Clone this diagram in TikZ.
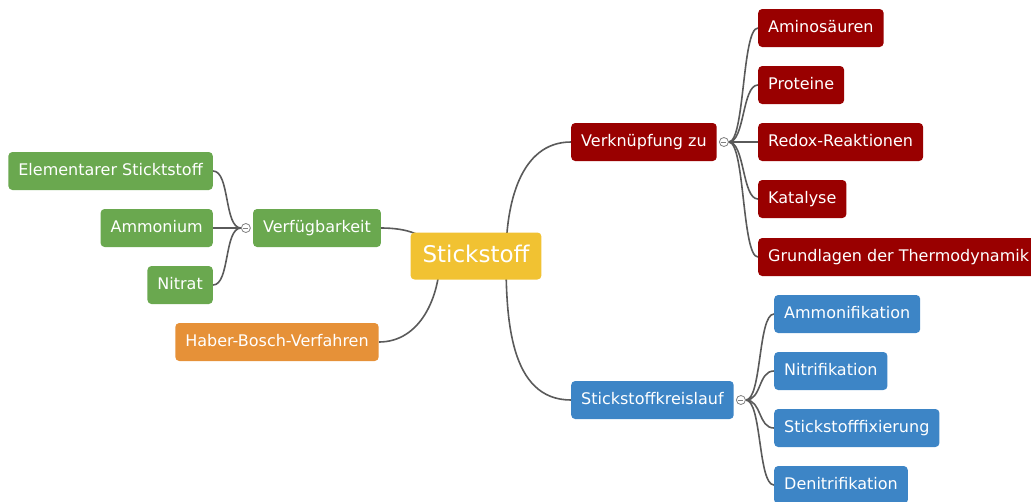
\documentclass[tikz,border=0pt]{standalone}
\usepackage{fontspec}
\setmainfont{DejaVu Sans}
\usetikzlibrary{backgrounds}
\definecolor{gelb}{HTML}{F1C232}
\definecolor{gruen}{HTML}{6AA84F}
\definecolor{orange}{HTML}{E69138}
\definecolor{rot}{HTML}{990000}
\definecolor{blau}{HTML}{3D85C6}
\definecolor{linie}{HTML}{5A5A5A}
\begin{document}
\begin{tikzpicture}[x=1pt,y=1pt,
        % Configuración de las cajas
        box/.style={rounded corners=4pt, text=white, font=\fontsize{16}{18}\selectfont,
            minimum height=38pt, inner xsep=10pt, text height=12pt, text depth=3.5pt},
        root/.style={box, fill=gelb, font=\fontsize{23}{26}\selectfont, minimum height=47pt,
            inner xsep=12pt, text height=17pt, text depth=4pt},
        verde/.style={box, fill=gruen},
        naranja/.style={box, fill=orange},
        rojo/.style={box, fill=rot},
        azul/.style={box, fill=blau},
        % Botón de plegar (círculo con signo menos)
        toggle/.style={circle, draw=gray, fill=white, line width=0.8pt, minimum size=9pt, inner sep=0pt,
            path picture={\draw[gray, line width=0.8pt] ([xshift=-2.5pt]path picture bounding box.center)
                -- ([xshift=2.5pt]path picture bounding box.center);}},
        % Configuración de las líneas
        link/.style={linie, line width=1.6pt}
    ]
    \clip (0,0) rectangle (1031,-501);

    % Nodo central
    \node[root] (root) at (476,-256) {Stickstoff};

    % Rama izquierda
    \node[verde] (verf) at (317,-228) {Verfügbarkeit};
    \node[verde, anchor=east] (elem) at (213,-171) {Elementarer Sticktstoff};
    \node[verde, anchor=east] (ammon) at (213,-228) {Ammonium};
    \node[verde, anchor=east] (nitrat) at (213,-285) {Nitrat};
    \node[naranja] (haber) at (277,-342) {Haber-Bosch-Verfahren};
    \node[toggle] (tgverf) at ([xshift=-7pt]verf.west) {};

    % Rama superior derecha
    \node[rojo, anchor=west] (verkn) at (571,-142) {Verknüpfung zu};
    \node[rojo, anchor=west] (amino) at (758,-28) {Aminosäuren};
    \node[rojo, anchor=west] (prot) at (758,-85) {Proteine};
    \node[rojo, anchor=west] (redox) at (758,-142) {Redox-Reaktionen};
    \node[rojo, anchor=west] (kataly) at (758,-199) {Katalyse};
    \node[rojo, anchor=west] (thermo) at (758,-257) {Grundlagen der Thermodynamik};
    \node[toggle] (tgverkn) at ([xshift=7pt]verkn.east) {};

    % Rama inferior derecha
    \node[azul, anchor=west] (kreis) at (571,-400) {Stickstoffkreislauf};
    \node[azul, anchor=west] (ammonif) at (774,-314) {Ammonifikation};
    \node[azul, anchor=west] (nitrif) at (774,-371) {Nitrifikation};
    \node[azul, anchor=west] (fix) at (774,-428) {Stickstofffixierung};
    \node[azul, anchor=west] (denitr) at (774,-485) {Denitrifikation};
    \node[toggle] (tgkreis) at ([xshift=7pt]kreis.east) {};

    % Aristas detrás de las cajas
    \begin{scope}[on background layer]
        \draw[link] ([xshift=-44pt]root.center) to[out=90,in=0] (verf.east);
        \draw[link] ([xshift=-36pt]root.center) to[out=-90,in=0] (haber.east);
        \draw[link] ([xshift=30pt]root.center) to[out=90,in=180] (verkn.west);
        \draw[link] ([xshift=30pt]root.center) to[out=-90,in=180] (kreis.west);
        \foreach \n in {elem,ammon,nitrat}
            \draw[link] (tgverf.west) .. controls +(-17,0) and +(17,0) .. (\n.east);
        \foreach \n in {amino,prot,redox,kataly,thermo}
            \draw[link] (tgverkn.east) .. controls +(16,0) and +(-16,0) .. (\n.west);
        \foreach \n in {ammonif,nitrif,fix,denitr}
            \draw[link] (tgkreis.east) .. controls +(16,0) and +(-16,0) .. (\n.west);
    \end{scope}

\end{tikzpicture}
\end{document}
